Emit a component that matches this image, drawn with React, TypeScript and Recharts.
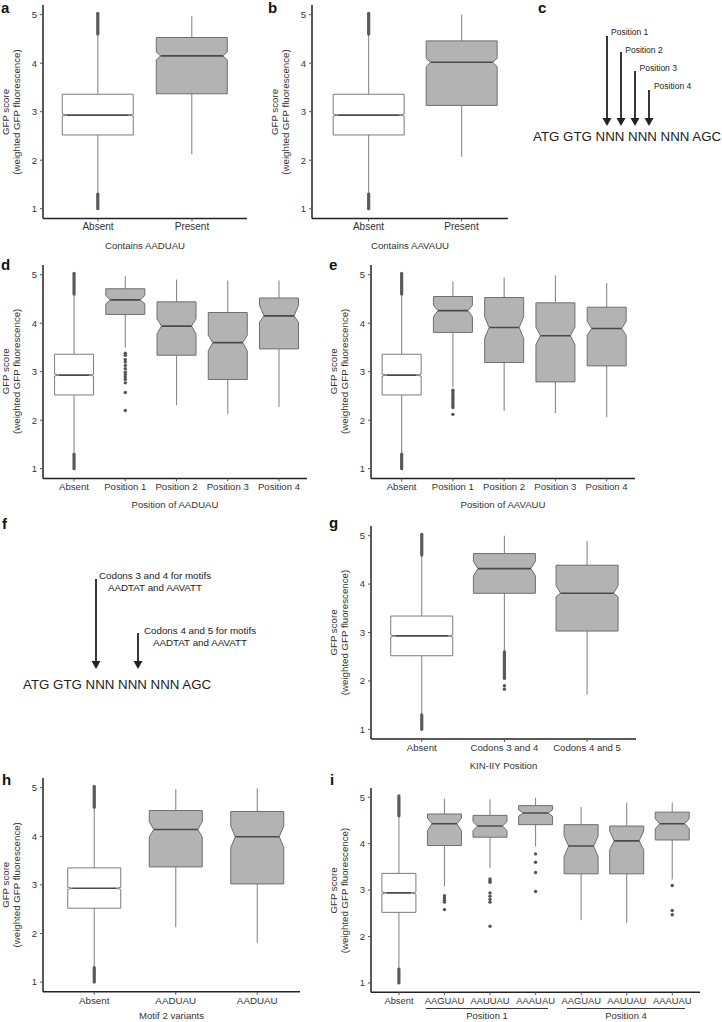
import { Bar, ComposedChart, XAxis, YAxis } from "recharts";

const FONT = "'Liberation Sans', Arial, Helvetica, sans-serif";

// shared "Absent" outlier stripes (dense points drawn as a band)
const absentBands = [[1.0, 1.3], [4.6, 5.03]];

// panel a
const aCats = ["Absent", "Present"];
const aLow = [1.3, 2.12];
const aQ1 = [2.52, 3.37];
const aMed = [2.93, 4.15];
const aQ3 = [3.36, 4.53];
const aHigh = [4.6, 4.97];
const aNotchLo = [2.91, 4.07];
const aNotchHi = [2.95, 4.23];
const aOut: number[][] = [[], []];
const aBands = [absentBands, []];

// panel b
const bCats = ["Absent", "Present"];
const bLow = [1.3, 2.07];
const bQ1 = [2.52, 3.13];
const bMed = [2.93, 4.02];
const bQ3 = [3.36, 4.46];
const bHigh = [4.6, 5.0];
const bNotchLo = [2.91, 3.93];
const bNotchHi = [2.95, 4.1];
const bOut: number[][] = [[], []];
const bBands = [absentBands, []];

// panel d
const dCats = ["Absent", "Position 1", "Position 2", "Position 3", "Position 4"];
const dLow = [1.3, 3.5, 2.31, 2.12, 2.27];
const dQ1 = [2.52, 4.18, 3.34, 2.84, 3.47];
const dMed = [2.93, 4.48, 3.94, 3.6, 4.15];
const dQ3 = [3.36, 4.71, 4.44, 4.22, 4.52];
const dHigh = [4.6, 4.97, 4.9, 4.88, 4.88];
const dNotchLo = [2.91, 4.4, 3.78, 3.43, 4.02];
const dNotchHi = [2.95, 4.57, 4.09, 3.75, 4.37];
const dOut = [[], [3.38, 3.34, 3.25, 3.2, 3.13, 3.06, 2.99, 2.94, 2.89, 2.84, 2.77, 2.57, 2.2], [], [], []];
const dBands = [absentBands, [], [], [], []];

// panel e
const eCats = ["Absent", "Position 1", "Position 2", "Position 3", "Position 4"];
const eLow = [1.3, 2.68, 2.19, 2.15, 2.06];
const eQ1 = [2.52, 3.81, 3.19, 2.79, 3.12];
const eMed = [2.93, 4.26, 3.91, 3.74, 3.89];
const eQ3 = [3.36, 4.55, 4.53, 4.42, 4.33];
const eHigh = [4.6, 4.86, 4.94, 4.99, 4.83];
const eNotchLo = [2.91, 4.13, 3.69, 3.56, 3.75];
const eNotchHi = [2.95, 4.37, 4.13, 3.92, 4.04];
const eOut = [[], [2.62, 2.58, 2.54, 2.5, 2.46, 2.42, 2.38, 2.34, 2.3, 2.26, 2.12], [], [], []];
const eBands = [absentBands, [], [], [], []];

// panel g
const gCats = ["Absent", "Codons 3 and 4", "Codons 4 and 5"];
const gLow = [1.3, 2.6, 1.72];
const gQ1 = [2.52, 3.81, 3.03];
const gMed = [2.93, 4.32, 3.81];
const gQ3 = [3.34, 4.63, 4.39];
const gHigh = [4.6, 5.0, 4.89];
const gNotchLo = [2.91, 4.17, 3.74];
const gNotchHi = [2.95, 4.47, 3.97];
const gOut = [[], [1.9, 1.83], []];
const gBands = [absentBands, [[2.05, 2.6]], []];

// panel h
const hCats = ["Absent", "AADUAU", "AADUAU"];
const hLow = [1.3, 2.13, 1.81];
const hQ1 = [2.52, 3.37, 3.02];
const hMed = [2.93, 4.14, 3.99];
const hQ3 = [3.35, 4.53, 4.51];
const hHigh = [4.6, 4.97, 4.99];
const hNotchLo = [2.91, 3.99, 3.77];
const hNotchHi = [2.95, 4.3, 4.21];
const hOut: number[][] = [[], [], []];
const hBands = [absentBands, [], []];

// panel i
const iCats = ["Absent", "AAGUAU", "AAUUAU", "AAAUAU", "AAGUAU", "AAUUAU", "AAAUAU"];
const iLow = [1.3, 3.08, 3.48, 3.94, 2.35, 2.29, 3.23];
const iQ1 = [2.52, 3.96, 4.14, 4.41, 3.35, 3.35, 4.08];
const iMed = [2.94, 4.43, 4.38, 4.66, 3.95, 4.06, 4.43];
const iQ3 = [3.36, 4.64, 4.61, 4.82, 4.41, 4.38, 4.68];
const iHigh = [4.6, 4.97, 4.96, 4.99, 4.79, 4.88, 4.89];
const iNotchLo = [2.92, 4.28, 4.28, 4.59, 3.72, 3.87, 4.32];
const iNotchHi = [2.96, 4.55, 4.48, 4.73, 4.16, 4.27, 4.54];
const iOut = [
  [],
  [2.88, 2.83, 2.78, 2.74, 2.58],
  [3.24, 3.2, 3.17, 2.94, 2.87, 2.8, 2.74, 2.22],
  [3.78, 3.6, 3.38, 2.97],
  [],
  [],
  [3.1, 2.56, 2.47],
];
const iBands = [absentBands, [], [], [], [], [], []];
const iGroups = ["Position 1", "Position 4"];

const yTicks = [1, 2, 3, 4, 5];

type Row = {
  name: string;
  span: [number, number];
  q1: number;
  med: number;
  q3: number;
  nLo: number;
  nHi: number;
  out: number[];
  bands: number[][];
};

const makeRows = (
  cats: string[], low: number[], q1: number[], med: number[], q3: number[], high: number[],
  nLo: number[], nHi: number[], out: number[][], bands: number[][][]
): Row[] =>
  cats.map((name, i) => ({
    name,
    span: [low[i], high[i]],
    q1: q1[i],
    med: med[i],
    q3: q3[i],
    nLo: nLo[i],
    nHi: nHi[i],
    out: out[i],
    bands: bands[i],
  }));

const BoxShape = (props: any) => {
  const { x, y, width, height, payload } = props;
  if (!payload) return null;
  const [lo, hi] = payload.span;
  const top = Math.min(y, y + height);
  const bot = Math.max(y, y + height);
  const k = (bot - top) / (hi - lo);
  const py = (v: number) => bot - (v - lo) * k;
  const cx = x + width / 2;
  const xl = x;
  const xr = x + width;
  const ind = Math.min(4.5, width * 0.15);
  const filled = payload.name !== "Absent";
  const d = `M${xl},${py(payload.q3)} L${xr},${py(payload.q3)} L${xr},${py(payload.nHi)} L${xr - ind},${py(payload.med)} L${xr},${py(payload.nLo)} L${xr},${py(payload.q1)} L${xl},${py(payload.q1)} L${xl},${py(payload.nLo)} L${xl + ind},${py(payload.med)} L${xl},${py(payload.nHi)} Z`;
  return (
    <g>
      <line x1={cx} x2={cx} y1={py(hi)} y2={py(payload.q3)} stroke="#8a8a8a" strokeWidth={1.1} />
      <line x1={cx} x2={cx} y1={py(payload.q1)} y2={py(lo)} stroke="#8a8a8a" strokeWidth={1.1} />
      {payload.bands.map((b: number[], j: number) => (
        <line key={"b" + j} x1={cx} x2={cx} y1={py(b[0])} y2={py(b[1])} stroke="#5a5a5a" strokeWidth={3.2} strokeLinecap="round" />
      ))}
      {payload.out.map((v: number, j: number) => (
        <circle key={"o" + j} cx={cx} cy={py(v)} r={1.7} fill="#555" />
      ))}
      <path d={d} fill={filled ? "#b3b3b3" : "#ffffff"} stroke={filled ? "#6e6e6e" : "#7a7a7a"} strokeWidth={1} />
      <line x1={xl + ind} x2={xr - ind} y1={py(payload.med)} y2={py(payload.med)} stroke="#4a4a4a" strokeWidth={1.6} />
    </g>
  );
};

type Geo = { x0: number; x1: number; yTop: number; yBot: number; padL: number; padR: number; gap: string };

const BoxPanel = ({ rows, geo, tickFont }: { rows: Row[]; geo: Geo; tickFont: number }) => {
  const W = geo.x1 - geo.x0 + 45;
  const H = geo.yBot - geo.yTop + 30;
  return (
    <div style={{ position: "absolute", left: geo.x0 - 40, top: geo.yTop - 5 }}>
      <ComposedChart width={W} height={H} data={rows} margin={{ top: 5, right: 5, bottom: 5, left: 0 }} barCategoryGap={geo.gap}>
        <XAxis
          dataKey="name"
          type="category"
          height={20}
          interval={0}
          padding={{ left: geo.padL, right: geo.padR }}
          tickSize={3}
          tickMargin={2}
          tick={{ fontSize: tickFont, fill: "#333", fontFamily: FONT }}
          tickLine={{ stroke: "#555" }}
          axisLine={{ stroke: "#222", strokeWidth: 1.5 }}
        />
        <YAxis
          type="number"
          width={40}
          domain={[0.8, 5.2]}
          ticks={yTicks}
          allowDataOverflow
          tickSize={3}
          tickMargin={3}
          tick={{ fontSize: 9.5, fill: "#333", fontFamily: FONT }}
          tickLine={{ stroke: "#555" }}
          axisLine={{ stroke: "#222", strokeWidth: 1.5 }}
        />
        <Bar dataKey="span" isAnimationActive={false} shape={BoxShape} />
      </ComposedChart>
    </div>
  );
};

const panels: { key: string; rows: Row[]; geo: Geo; title: string; tickFont: number }[] = [
  { key: "a", rows: makeRows(aCats, aLow, aQ1, aMed, aQ3, aHigh, aNotchLo, aNotchHi, aOut, aBands), geo: { x0: 43, x1: 247, yTop: 5.3, yBot: 218.7, padL: 8, padR: 8, gap: "12%" }, title: "Contains AADUAU", tickFont: 10 },
  { key: "b", rows: makeRows(bCats, bLow, bQ1, bMed, bQ3, bHigh, bNotchLo, bNotchHi, bOut, bBands), geo: { x0: 312, x1: 508, yTop: 5.3, yBot: 218.7, padL: 10, padR: 0, gap: "12%" }, title: "Contains AAVAUU", tickFont: 10 },
  { key: "d", rows: makeRows(dCats, dLow, dQ1, dMed, dQ3, dHigh, dNotchLo, dNotchHi, dOut, dBands), geo: { x0: 43, x1: 307, yTop: 264.6, yBot: 478, padL: 5.4, padR: 2.4, gap: "12%" }, title: "Position of AADUAU", tickFont: 9.6 },
  { key: "e", rows: makeRows(eCats, eLow, eQ1, eMed, eQ3, eHigh, eNotchLo, eNotchHi, eOut, eBands), geo: { x0: 371, x1: 635, yTop: 264.6, yBot: 478, padL: 5, padR: 2.7, gap: "12%" }, title: "Position of AAVAUU", tickFont: 9.6 },
  { key: "g", rows: makeRows(gCats, gLow, gQ1, gMed, gQ3, gHigh, gNotchLo, gNotchHi, gOut, gBands), geo: { x0: 371, x1: 636, yTop: 526, yBot: 739, padL: 9.4, padR: 7.6, gap: "12.5%" }, title: "KIN-IIY Position", tickFont: 9.6 },
  { key: "h", rows: makeRows(hCats, hLow, hQ1, hMed, hQ3, hHigh, hNotchLo, hNotchHi, hOut, hBands), geo: { x0: 43, x1: 300, yTop: 777.9, yBot: 991.7, padL: 10.5, padR: 2, gap: "17.5%" }, title: "Motif 2 variants", tickFont: 9.8 },
  { key: "i", rows: makeRows(iCats, iLow, iQ1, iMed, iQ3, iHigh, iNotchLo, iNotchHi, iOut, iBands), geo: { x0: 371, x1: 700, yTop: 788.4, yBot: 992.6, padL: 5.2, padR: 4.9, gap: "12.5%" }, title: "", tickFont: 9.4 },
];

const letters = [
  { t: "a", x: 1, y: 13 },
  { t: "b", x: 268, y: 13 },
  { t: "c", x: 538, y: 13 },
  { t: "d", x: 1, y: 270 },
  { t: "e", x: 329, y: 270 },
  { t: "f", x: 2, y: 529 },
  { t: "g", x: 329, y: 528 },
  { t: "h", x: 2, y: 785 },
  { t: "i", x: 330, y: 785 },
];

const Arrow = ({ x, y0, y1 }: { x: number; y0: number; y1: number }) => (
  <g>
    <line x1={x} x2={x} y1={y0} y2={y1 - 7} stroke="#222" strokeWidth={1.8} />
    <path d={`M${x - 4.5},${y1 - 8} L${x + 4.5},${y1 - 8} L${x},${y1} Z`} fill="#222" />
  </g>
);

const positionLabels = ["Position 1", "Position 2", "Position 3", "Position 4"];

export default function App() {
  return (
    <div style={{ position: "absolute", left: 0, top: 0, width: 722, height: 1022, background: "#fff", overflow: "hidden", fontFamily: FONT }}>
      {panels.map((p) => (
        <BoxPanel key={p.key} rows={p.rows} geo={p.geo} tickFont={p.tickFont} />
      ))}
      <svg width={722} height={1022} style={{ position: "absolute", left: 0, top: 0, pointerEvents: "none" }} fontFamily={FONT}>
        {letters.map((l) => (
          <text key={l.t} x={l.x} y={l.y} fontSize={15} fontWeight="bold" fill="#111">
            {l.t}
          </text>
        ))}
        {panels.map((p) => {
          const yc = (p.geo.yTop + p.geo.yBot) / 2;
          const xc = (p.geo.x0 + p.geo.x1) / 2;
          const ty = Math.min(p.geo.yBot + 26.5, 1015.5);
          return (
            <g key={"lab" + p.key} fill="#333" fontSize={9.7}>
              <text transform={`translate(${p.geo.x0 - 37.5},${yc}) rotate(-90)`} textAnchor="middle" dominantBaseline="central">
                GFP score
              </text>
              <text transform={`translate(${p.geo.x0 - 27},${yc}) rotate(-90)`} textAnchor="middle" dominantBaseline="central">
                (weighted GFP fluorescence)
              </text>
              {p.title && (
                <text x={xc} y={ty} textAnchor="middle" dominantBaseline="central" fontSize={9.6}>
                  {p.title}
                </text>
              )}
            </g>
          );
        })}
        {/* panel i groups */}
        <line x1={426} x2={548} y1={1008.5} y2={1008.5} stroke="#333" strokeWidth={1} />
        <line x1={567} x2={685} y1={1008.5} y2={1008.5} stroke="#333" strokeWidth={1} />
        <text x={487} y={1015.5} textAnchor="middle" dominantBaseline="central" fontSize={9.5} fill="#333">{iGroups[0]}</text>
        <text x={626} y={1015.5} textAnchor="middle" dominantBaseline="central" fontSize={9.5} fill="#333">{iGroups[1]}</text>

        {/* panel c */}
        <Arrow x={607} y0={36} y1={126} />
        <Arrow x={621} y0={52} y1={126} />
        <Arrow x={635} y0={71} y1={126} />
        <Arrow x={649} y0={90} y1={126} />
        {positionLabels.map((t, j) => (
          <text key={t} x={611 + j * 14.3} y={35 + j * 18} fontSize={8.5} fill="#222">
            {t}
          </text>
        ))}
        <text x={533} y={141} fontSize={13.3} fill="#222">ATG GTG NNN NNN NNN AGC</text>

        {/* panel f */}
        <Arrow x={96} y0={579} y1={669} />
        <Arrow x={138} y0={633} y1={669} />
        <text x={155} y={579} textAnchor="middle" fontSize={9.8} fill="#222">Codons 3 and 4 for motifs</text>
        <text x={155} y={591} textAnchor="middle" fontSize={9.8} fill="#222">AADTAT and AAVATT</text>
        <text x={200} y={634} textAnchor="middle" fontSize={9.8} fill="#222">Codons 4 and 5 for motifs</text>
        <text x={200} y={646} textAnchor="middle" fontSize={9.8} fill="#222">AADTAT and AAVATT</text>
        <text x={23} y={689} fontSize={13.3} fill="#222">ATG GTG NNN NNN NNN AGC</text>
      </svg>
    </div>
  );
}
